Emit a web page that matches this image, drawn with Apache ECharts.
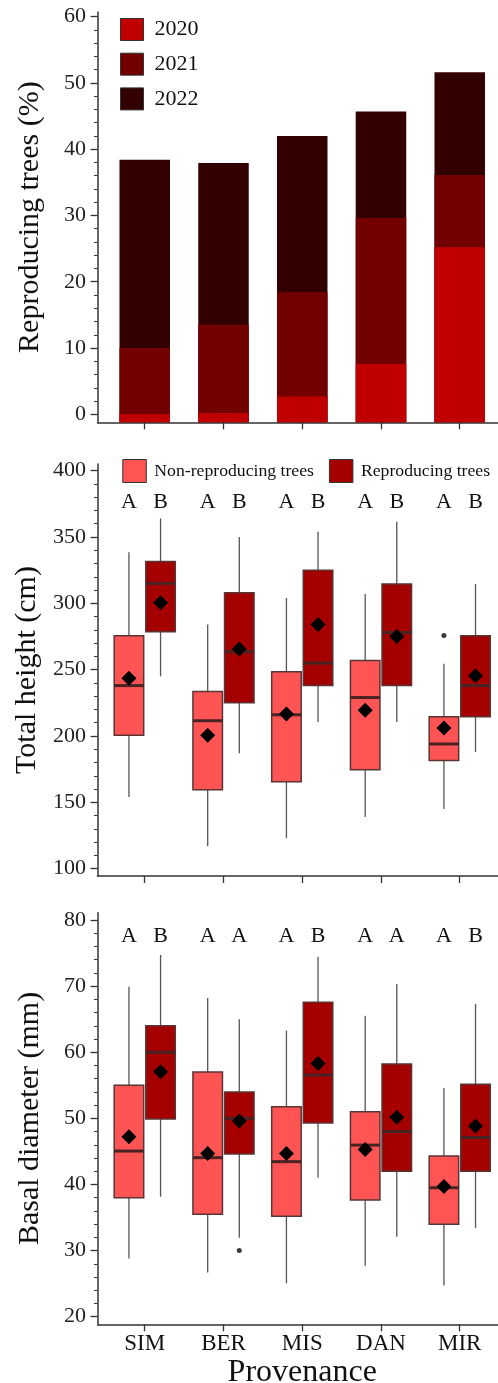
<!DOCTYPE html>
<html>
<head>
<meta charset="utf-8">
<script src="https://cdn.jsdelivr.net/npm/echarts@6/dist/echarts.min.js"></script>
<style>
  html, body { margin: 0; padding: 0; background: #ffffff; }
  #chart { width: 498px; height: 1383px; }
</style>
</head>
<body>
<div id="chart"></div>
<script>
// ---- data -------------------------------------------------------------
const provenances = ['SIM', 'BER', 'MIS', 'DAN', 'MIR'];
const years = ['2020', '2021', '2022'];
const groups = ['Non-reproducing trees', 'Reproducing trees'];

// cumulative share of reproducing trees by year (%)
const repro2020 = [0.0, 0.2, 2.7, 7.6, 25.2];
const repro2021 = [10.0, 13.5, 18.4, 29.6, 36.1];
const repro2022 = [38.4, 37.9, 42.0, 45.7, 51.6];

// total height (cm): [min, Q1, median, Q3, max] per provenance
const heightNon = [
  [154, 200.5, 238, 275.5, 338.5],
  [117, 159.5, 211.5, 233.5, 284],
  [123, 165.5, 216, 248.5, 304],
  [139, 174.5, 229, 257, 307],
  [145, 181.5, 194, 214.5, 254.5]
];
const heightRep = [
  [245, 278.5, 315, 331.5, 364],
  [187, 225, 263.5, 308, 350],
  [210.5, 238, 255, 325, 354],
  [210.5, 238, 278, 314.5, 361.5],
  [188, 214.5, 238, 275.5, 314.5]
];
const heightNonMean = [243.5, 200.5, 216.5, 219.5, 206];
const heightRepMean = [300.5, 265.5, 284, 275, 245.5];
const heightNonOutliers = [[5, 275.7]];
const heightRepOutliers = [];
const heightNonLetters = ['A', 'A', 'A', 'A', 'A'];
const heightRepLetters = ['B', 'B', 'B', 'B', 'B'];

// basal diameter (mm): [min, Q1, median, Q3, max] per provenance
const diamNon = [
  [28.8, 38.0, 45.05, 55.0, 69.9],
  [26.7, 35.5, 44.05, 57.0, 68.2],
  [25.05, 35.2, 43.45, 51.75, 63.25],
  [27.7, 37.65, 45.95, 51.0, 65.5],
  [24.7, 34.0, 39.5, 44.3, 54.6]
];
const diamRep = [
  [38.15, 49.9, 60.0, 64.0, 74.7],
  [31.95, 44.6, 50.0, 54.0, 65.0],
  [41.0, 49.3, 56.55, 67.55, 74.45],
  [32.1, 42.0, 48.0, 58.2, 70.3],
  [33.4, 42.0, 47.1, 55.15, 67.3]
];
const diamNonMean = [47.2, 44.7, 44.7, 45.3, 39.7];
const diamRepMean = [57.05, 49.6, 58.3, 50.15, 48.85];
const diamNonOutliers = [];
const diamRepOutliers = [[2, 30.0]];
const diamNonLetters = ['A', 'A', 'A', 'A', 'A'];
const diamRepLetters = ['B', 'A', 'B', 'A', 'B'];

// tick labels
const reproTicks = [0, 10, 20, 30, 40, 50, 60];
const heightTicks = [100, 150, 200, 250, 300, 350, 400];
const diamTicks = [20, 30, 40, 50, 60, 70, 80];

// ---- styling ----------------------------------------------------------
const SERIF = "'Liberation Serif', 'Times New Roman', serif";
const AXIS_COLOR = '#333333';
const YEAR_COLORS = ['#C00000', '#730000', '#330000'];
const NON_FILL = '#FF5454';
const REP_FILL = '#A50000';
const BOX_W = 29.5;
const SHIFT = 15.8;

function minorValues(major, parts) {
  const out = [];
  for (let i = 1; i < major.length; i++) {
    const step = (major[i] - major[i - 1]) / parts;
    for (let j = 1; j < parts; j++) out.push(major[i - 1] + j * step);
  }
  return out;
}

const grids = [
  { left: 97.5, right: 0, top: 12, height: 410.3 },
  { left: 97.5, right: 0, top: 464, height: 412 },
  { left: 97.5, right: 0, top: 912.7, height: 411.6 }
].map(g => Object.assign({ outerBoundsMode: 'none', containLabel: false }, g));

const catIdx = provenances.map((_, i) => i + 1);

function xAxisFor(gridIndex, withLabels) {
  return {
    type: 'value', gridIndex, min: 0.4, max: 5.486,
    axisLine: { show: true, onZero: false, lineStyle: { color: AXIS_COLOR, width: 1.5 } },
    axisTick: { show: true, inside: false, length: 7, customValues: catIdx,
                lineStyle: { color: AXIS_COLOR, width: 1.3 } },
    axisLabel: { show: withLabels, customValues: catIdx, margin: 8.5,
                 formatter: v => provenances[Math.round(v) - 1] || '',
                 fontFamily: SERIF, fontSize: 23, color: '#111' },
    splitLine: { show: false },
    name: withLabels ? 'Provenance' : '',
    nameLocation: 'middle', nameGap: 28,
    nameTextStyle: { fontFamily: SERIF, fontSize: 32, color: '#111', padding: [0, 0, 0, 9] }
  };
}

function yAxesFor(gridIndex, min, max, majors, minorParts, name) {
  return [{
    type: 'value', gridIndex, min, max, startValue: min, position: 'left',
    name, nameLocation: 'middle', nameGap: 52,
    nameTextStyle: { fontFamily: SERIF, fontSize: 30, color: '#111' },
    axisLine: { show: true, onZero: false, lineStyle: { color: AXIS_COLOR, width: 1.5 } },
    axisTick: { show: true, inside: false, length: 7, customValues: majors,
                lineStyle: { color: AXIS_COLOR, width: 1.3 } },
    axisLabel: { show: true, customValues: majors, margin: 11.5,
                 fontFamily: SERIF, fontSize: 22, color: '#222' },
    splitLine: { show: false }
  }, {
    type: 'value', gridIndex, min, max, position: 'left', offset: 0,
    axisLine: { show: false },
    axisLabel: { show: false },
    axisTick: { show: true, inside: false, length: 3.5,
                customValues: minorValues(majors, minorParts),
                lineStyle: { color: AXIS_COLOR, width: 1 } },
    splitLine: { show: false }
  }];
}

function barSeries(name, values, color) {
  return {
    type: 'bar', name, xAxisIndex: 0, yAxisIndex: 0,
    data: values.map((v, i) => [i + 1, v]),
    barWidth: 50.5, barGap: '-100%',
    itemStyle: { color },
    emphasis: { disabled: true }
  };
}

function boxSeries(name, rows, letters, gridIndex, shift, fill, letterLevel) {
  return {
    type: 'custom', name,
    xAxisIndex: gridIndex, yAxisIndex: gridIndex * 2,
    itemStyle: { color: fill, borderColor: '#4a2a2a' },
    encode: { x: 0, y: [1, 2, 3, 4, 5] },
    data: rows.map((r, i) => [i + 1].concat(r)),
    clip: false,
    renderItem(params, api) {
      const k = api.value(0);
      const p = [1, 2, 3, 4, 5].map(d => api.coord([k, api.value(d)]));
      const cx = p[0][0] + shift;
      const hw = BOX_W / 2;
      const t = api.coord([k, letterLevel]);
      const whisker = { stroke: '#555555', lineWidth: 1.3 };
      return {
        type: 'group',
        children: [
          { type: 'line', shape: { x1: cx, y1: p[4][1], x2: cx, y2: p[3][1] }, style: whisker },
          { type: 'line', shape: { x1: cx, y1: p[1][1], x2: cx, y2: p[0][1] }, style: whisker },
          { type: 'rect',
            shape: { x: cx - hw, y: p[3][1], width: BOX_W, height: p[1][1] - p[3][1] },
            style: { fill, stroke: '#5a3434', lineWidth: 1.5 } },
          { type: 'line', shape: { x1: cx - hw, y1: p[2][1], x2: cx + hw, y2: p[2][1] },
            style: { stroke: '#4a2222', lineWidth: 3 } },
          { type: 'text', x: cx, y: t[1],
            style: { text: letters[params.dataIndex], fill: '#111',
                     font: '22px ' + SERIF, align: 'center', verticalAlign: 'middle' } }
        ]
      };
    }
  };
}

function meanSeries(means, gridIndex, shift) {
  return {
    type: 'scatter', xAxisIndex: gridIndex, yAxisIndex: gridIndex * 2,
    data: means.map((m, i) => [i + 1, m]),
    symbol: 'diamond', symbolSize: 15, symbolOffset: [shift, 0],
    itemStyle: { color: '#000000', opacity: 1 }, z: 5, silent: true
  };
}

function outlierSeries(points, gridIndex, shift) {
  return {
    type: 'scatter', xAxisIndex: gridIndex, yAxisIndex: gridIndex * 2,
    data: points,
    symbol: 'circle', symbolSize: 5, symbolOffset: [shift, 0],
    itemStyle: { color: '#3a3a3a', opacity: 1 }, z: 5, silent: true
  };
}

const option = {
  animation: false,
  backgroundColor: '#ffffff',
  grid: grids,
  legend: [{
    data: years, orient: 'vertical', left: 120, top: 18, padding: 0,
    itemWidth: 23, itemHeight: 22, itemGap: 11.7, selectedMode: false,
    icon: 'rect',
    itemStyle: { borderColor: '#333333', borderWidth: 1 },
    textStyle: { fontFamily: SERIF, fontSize: 22, color: '#111', padding: [0, 0, 0, 6] }
  }, {
    data: groups, orient: 'horizontal', left: 122.3, top: 459, padding: 0,
    itemWidth: 23.5, itemHeight: 23, itemGap: 15, selectedMode: false,
    icon: 'rect',
    itemStyle: { borderColor: '#333333', borderWidth: 1 },
    textStyle: { fontFamily: SERIF, fontSize: 17.7, color: '#111', padding: [0, 0, 0, 3] }
  }],
  xAxis: [xAxisFor(0, false), xAxisFor(1, false), xAxisFor(2, true)],
  yAxis: []
    .concat(yAxesFor(0, -1.21, 60.7, reproTicks, 5, 'Reproducing trees (%)'))
    .concat(yAxesFor(1, 94.5, 405, heightTicks, 5, 'Total height (cm)'))
    .concat(yAxesFor(2, 18.85, 81.1, diamTicks, 5, 'Basal diameter (mm)')),
  series: [
    // back to front: latest year first so earlier years sit on top
    barSeries(years[2], repro2022, YEAR_COLORS[2]),
    barSeries(years[1], repro2021, YEAR_COLORS[1]),
    barSeries(years[0], repro2020, YEAR_COLORS[0]),

    boxSeries(groups[0], heightNon, heightNonLetters, 1, -SHIFT, NON_FILL, 376),
    boxSeries(groups[1], heightRep, heightRepLetters, 1, SHIFT, REP_FILL, 376),
    meanSeries(heightNonMean, 1, -SHIFT),
    meanSeries(heightRepMean, 1, SHIFT),
    outlierSeries(heightNonOutliers, 1, -SHIFT),
    outlierSeries(heightRepOutliers, 1, SHIFT),

    boxSeries(groups[0], diamNon, diamNonLetters, 2, -SHIFT, NON_FILL, 77.5),
    boxSeries(groups[1], diamRep, diamRepLetters, 2, SHIFT, REP_FILL, 77.5),
    meanSeries(diamNonMean, 2, -SHIFT),
    meanSeries(diamRepMean, 2, SHIFT),
    outlierSeries(diamNonOutliers, 2, -SHIFT),
    outlierSeries(diamRepOutliers, 2, SHIFT)
  ]
};

const chart = echarts.init(document.getElementById('chart'), null, { renderer: 'canvas' });
chart.setOption(option);
</script>
</body>
</html>
